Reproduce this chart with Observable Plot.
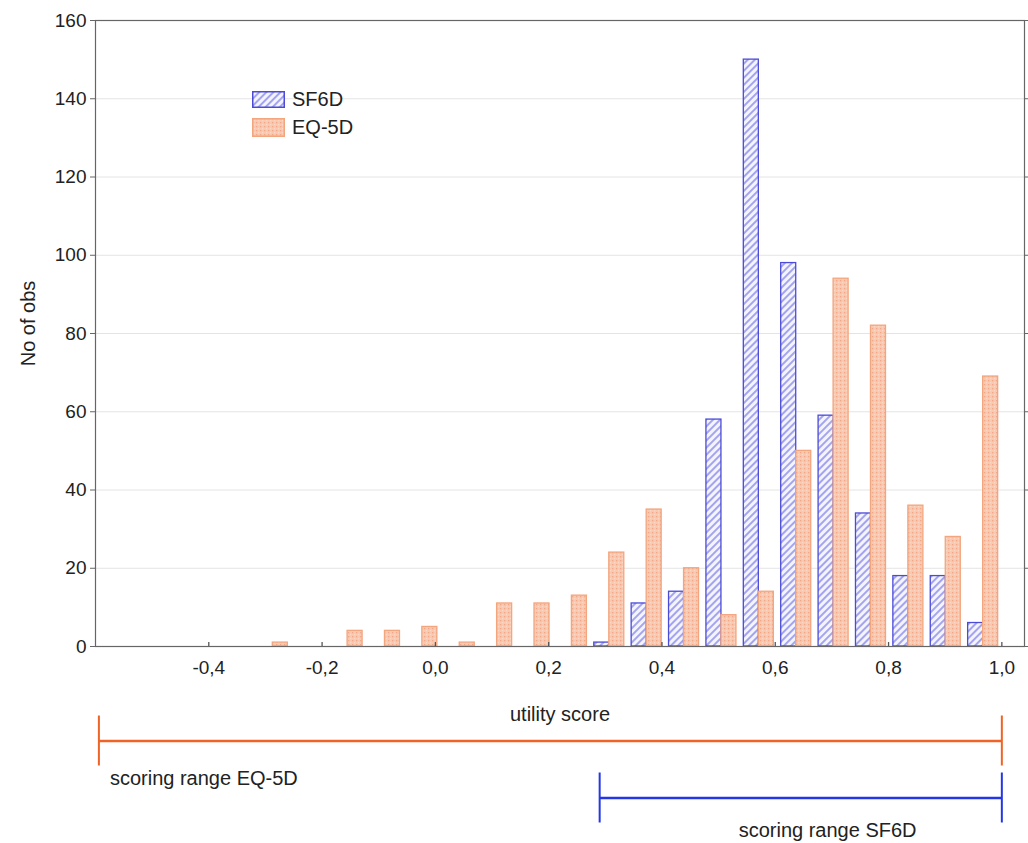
<!DOCTYPE html>
<html>
<head>
<meta charset="utf-8">
<script src="https://cdn.jsdelivr.net/npm/d3@7"></script>
<script src="https://cdn.jsdelivr.net/npm/@observablehq/plot@0.6"></script>
<style>
  html, body { margin: 0; padding: 0; background: #fff; }
  #wrap { position: relative; width: 1028px; height: 843px; font-family: "Liberation Sans", Arial, sans-serif; color: #222; }
  #wrap svg { overflow: visible; }
  #ranges { position: absolute; left: 0; top: 700px; }
  #legend { position: absolute; left: 252px; top: 85px; font-size: 20px; line-height: 1; }
  #legend .row { display: flex; align-items: center; height: 28px; }
  #legend .row svg { margin-right: 7px; }
</style>
</head>
<body>
<svg width="0" height="0" style="position:absolute">
  <defs>
    <pattern id="hatch" patternUnits="userSpaceOnUse" width="5" height="5" patternTransform="rotate(45)">
      <rect width="5" height="5" fill="#f4f4ff"></rect>
      <line x1="1" y1="0" x2="1" y2="5" stroke="#7a7ae6" stroke-width="1.3"></line>
    </pattern>
    <pattern id="dots" patternUnits="userSpaceOnUse" width="4" height="4">
      <rect width="4" height="4" fill="#f9c8ae"></rect>
      <rect x="0" y="0" width="1.3" height="1.3" fill="#efa98a"></rect>
      <rect x="2" y="2" width="1.3" height="1.3" fill="#fbd9c6"></rect>
    </pattern>
  </defs>
</svg>
<div id="wrap">
  <div id="main"></div>
  <div id="ranges"></div>
  <div id="legend">
    <div class="row"><svg width="33" height="17"><rect x="0.75" y="0.75" width="31.5" height="15.5" fill="url(#hatch)" stroke="#4b4bd8" stroke-width="1.5"></rect></svg>SF6D</div>
    <div class="row"><svg width="33" height="19"><rect x="0.75" y="0.75" width="31.5" height="17.5" fill="url(#dots)" stroke="#f3a57e" stroke-width="1.5"></rect></svg>EQ-5D</div>
  </div>
</div>
<script>
// Bin centres of the utility-score histogram
const binCentres = [-0.551, -0.485, -0.419, -0.353, -0.287, -0.221, -0.155, -0.089,
  -0.023, 0.043, 0.109, 0.175, 0.241, 0.307, 0.373, 0.439,
  0.505, 0.571, 0.637, 0.703, 0.769, 0.835, 0.901, 0.967];
// Number of observations per bin
const sf6dCounts = [0, 0, 0, 0, 0, 0, 0, 0,
  0, 0, 0, 0, 0, 1, 11, 14,
  58, 150, 98, 59, 34, 18, 18, 6];
const eq5dCounts = [0, 0, 0, 0, 1, 0, 4, 4,
  5, 1, 11, 11, 13, 24, 35, 20,
  8, 14, 50, 94, 82, 36, 28, 69];
const xTicks = [-0.4, -0.2, 0.0, 0.2, 0.4, 0.6, 0.8, 1.0];
const yTicks = [0, 20, 40, 60, 80, 100, 120, 140, 160];
// Scoring ranges
const rangeNames = ["EQ-5D", "SF6D"];
const rangeLow = [-0.594, 0.29];
const rangeHigh = [1.0, 1.0];

const barW = 0.0265;
const fmt = d => d.toFixed(1).replace(".", ",");
const font = "'Liberation Sans', Arial, sans-serif";

const sfRows = binCentres.map((c, i) => ({c, n: sf6dCounts[i]})).filter(d => d.n > 0);
const eqRows = binCentres.map((c, i) => ({c, n: eq5dCounts[i]})).filter(d => d.n > 0);

const main = Plot.plot({
  width: 1028, height: 725,
  marginLeft: 95, marginRight: 4, marginTop: 20, marginBottom: 79,
  x: {domain: [-0.6, 1.04]},
  y: {domain: [0, 160]},
  style: {fontFamily: font, fontSize: "19px", color: "#222", background: "transparent", overflow: "visible"},
  marks: [
    Plot.gridY(yTicks, {stroke: "#e4e4e4", strokeOpacity: 1}),
    Plot.rect(sfRows, {x1: d => d.c - barW, x2: d => d.c, y1: 0, y2: "n", fill: "url(#hatch)", stroke: "#4b4bd8", strokeWidth: 1.3}),
    Plot.rect(eqRows, {x1: d => d.c, x2: d => d.c + barW, y1: 0, y2: "n", fill: "url(#dots)", stroke: "#f3a57e", strokeWidth: 1.3}),
    Plot.frame({stroke: "#666", strokeWidth: 1.2}),
    Plot.axisY(yTicks, {tickSize: 5, tickPadding: 4, label: null, stroke: "#666"}),
    Plot.axisY(yTicks, {anchor: "right", tickSize: 4, tickFormat: () => "", label: null, stroke: "#666"}),
    Plot.axisX(xTicks, {tickSize: 0, tickPadding: 14, tickFormat: fmt, label: null}),
    Plot.tickX(xTicks, {x: d => d, insetTop: 622, stroke: "#555", strokeWidth: 1.3}),
    Plot.text(["utility score"], {frameAnchor: "bottom", textAnchor: "middle", dy: 74, fontSize: 20, fill: "#222"}),
    Plot.text(["No of obs"], {frameAnchor: "left", textAnchor: "middle", dx: -67, dy: -10, rotate: -90, fontSize: 20, fill: "#222"})
  ]
});
document.getElementById("main").appendChild(main);

const ranges = rangeNames.map((name, i) => ({name, lo: rangeLow[i], hi: rangeHigh[i], color: name === "EQ-5D" ? "#ef6426" : "#2337e6"}));
const ends = ranges.flatMap(r => [{name: r.name, v: r.lo, color: r.color}, {name: r.name, v: r.hi, color: r.color}]);

const rangePlot = Plot.plot({
  width: 1028, height: 143,
  marginLeft: 95, marginRight: 4, marginTop: 0, marginBottom: 0,
  x: {domain: [-0.6, 1.04], axis: null},
  y: {type: "band", domain: rangeNames, range: [11.5, 125.5], padding: 0, axis: null},
  color: {type: "identity"},
  style: {fontFamily: font, fontSize: "20px", color: "#222", background: "transparent", overflow: "visible"},
  marks: [
    Plot.ruleY(ranges, {y: "name", x1: "lo", x2: "hi", stroke: "color", strokeWidth: 2.6}),
    Plot.tickX(ends, {x: "v", y: "name", stroke: "color", strokeWidth: 2, insetTop: 3.5, insetBottom: 3.5}),
    Plot.text(ranges.filter(r => r.name === "EQ-5D"), {x: "lo", y: "name", text: d => "scoring range " + d.name, textAnchor: "start", dx: 11, dy: 38, fill: "#222"}),
    Plot.text(ranges.filter(r => r.name === "SF6D"), {x: "lo", y: "name", text: d => "scoring range " + d.name, textAnchor: "start", dx: 139, dy: 33, fill: "#222"})
  ]
});
document.getElementById("ranges").appendChild(rangePlot);
</script>
</body>
</html>
